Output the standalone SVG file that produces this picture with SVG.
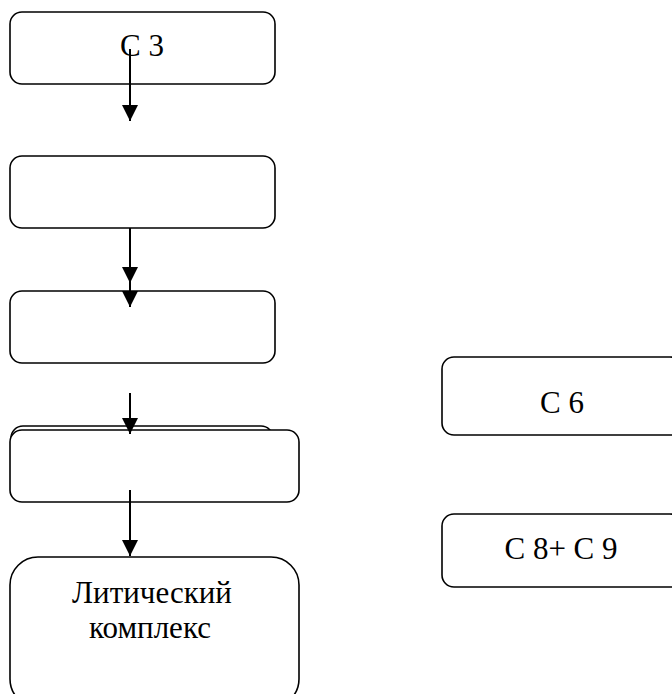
<svg xmlns="http://www.w3.org/2000/svg" width="672" height="694" viewBox="0 0 672 694">
  <style>
    .box { fill: #ffffff; stroke: #000000; stroke-width: 1.6; }
    .lbl { font-family: "Liberation Serif", "Times New Roman", serif; font-size: 31px; fill: #000000; text-anchor: middle; }
    .conn { stroke: #000000; stroke-width: 2; fill: none; marker-end: url(#arrow); }
  </style>
  <defs>
    <marker id="arrow" markerUnits="userSpaceOnUse" markerWidth="16" markerHeight="16" viewBox="0 0 15 15" refX="15" refY="7.5" orient="auto">
      <path d="M0,0 L15,7.5 L0,15 Z" fill="#000000"/>
    </marker>
  </defs>
  <rect width="672" height="694" fill="#ffffff"/>

  <g id="node-c3">
    <rect class="box" x="10" y="12" width="265" height="72" rx="12" ry="12"/>
    <text class="lbl" x="142" y="56">C 3</text>
  </g>
  <g id="node-2">
    <rect class="box" x="10" y="156" width="265" height="72" rx="12" ry="12"/>
  </g>
  <g id="node-3">
    <rect class="box" x="10" y="291" width="265" height="72" rx="12" ry="12"/>
  </g>
  <g id="node-4-back">
    <rect class="box" x="11" y="426" width="262" height="72" rx="12" ry="12"/>
  </g>
  <g id="node-4">
    <rect class="box" x="10" y="430" width="289" height="72" rx="12" ry="12"/>
  </g>
  <g id="node-lytic">
    <rect class="box" x="10" y="557" width="289" height="150" rx="28" ry="28"/>
    <text class="lbl" x="152" y="603">Литический</text>
    <text class="lbl" x="150" y="638">комплекс</text>
  </g>
  <g id="node-c6">
    <rect class="box" x="442" y="357" width="240" height="78" rx="12" ry="12"/>
    <text class="lbl" x="562" y="413">C 6</text>
  </g>
  <g id="node-c89">
    <rect class="box" x="442" y="514" width="240" height="73" rx="12" ry="12"/>
    <text class="lbl" x="561" y="559">C 8+ C 9</text>
  </g>

  <g id="connectors">
    <line class="conn" x1="130" y1="49" x2="130" y2="121"/>
    <line class="conn" x1="130" y1="228" x2="130" y2="283"/>
    <line class="conn" x1="130" y1="283" x2="130" y2="307"/>
    <line class="conn" x1="130" y1="393" x2="130" y2="434"/>
    <line class="conn" x1="130" y1="490" x2="130" y2="556"/>
  </g>
</svg>
